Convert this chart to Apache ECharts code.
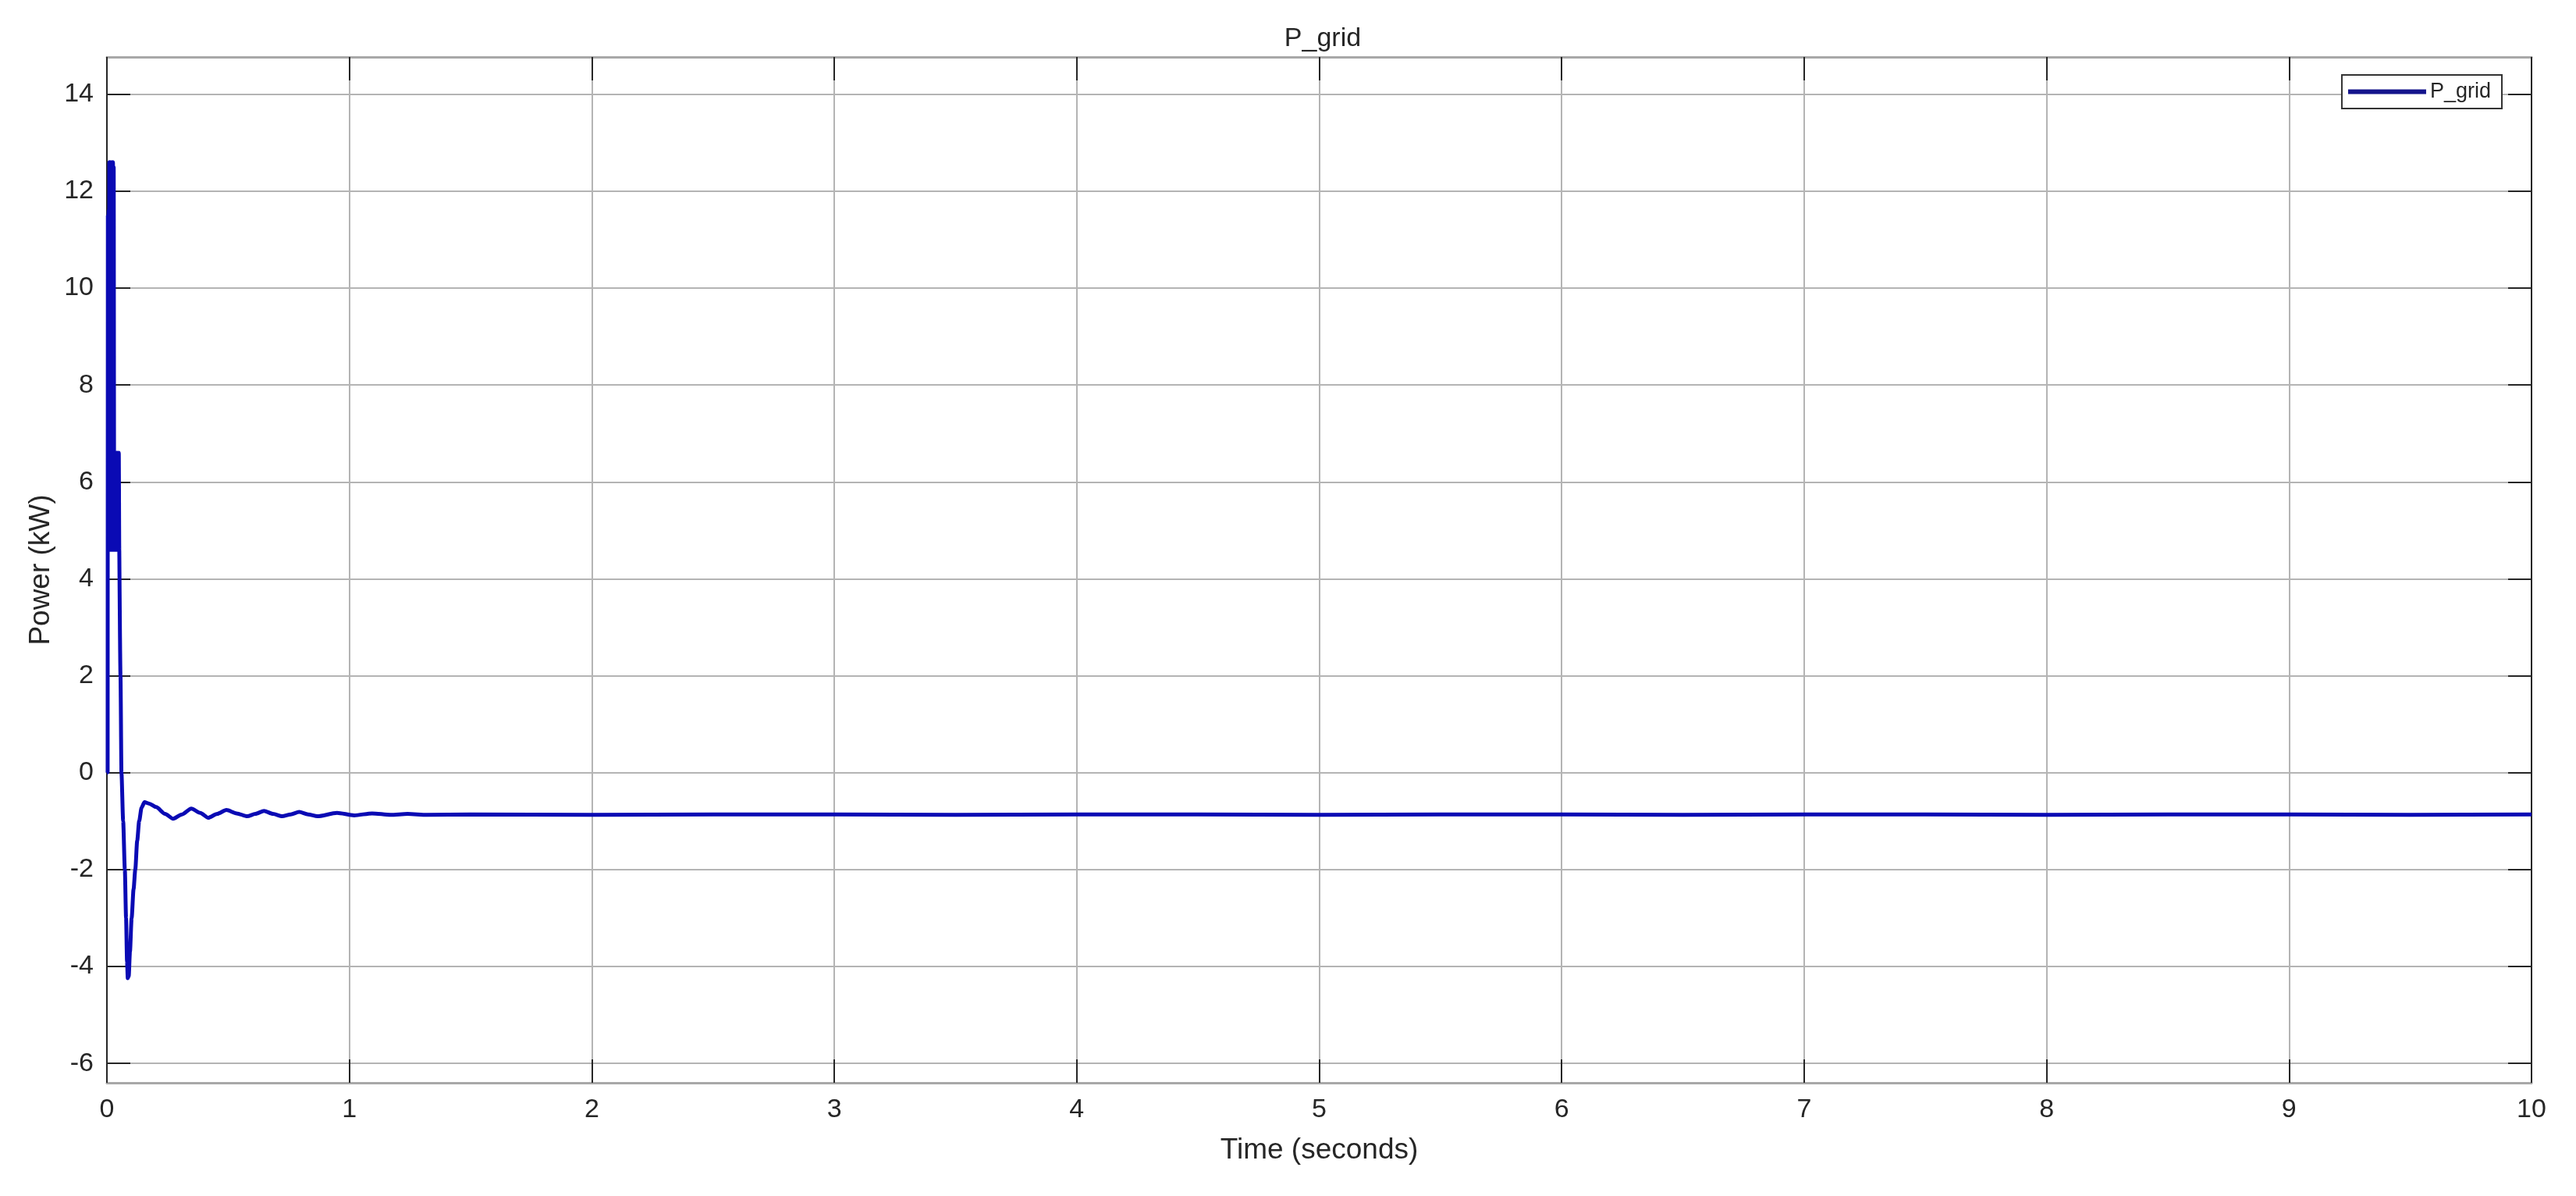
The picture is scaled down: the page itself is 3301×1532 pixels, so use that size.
<!DOCTYPE html>
<html>
<head>
<meta charset="utf-8">
<title>P_grid</title>
<script src="https://cdn.jsdelivr.net/npm/echarts@6/dist/echarts.min.js"></script>
<style>
  html, body { margin: 0; padding: 0; background: #fff; }
  #chart { width: 3301px; height: 1532px; }
</style>
</head>
<body>
<div id="chart"></div>
<script>
// time axis (s) and grid power (kW)
const timeS = [
  0, 0.003, 0.004, 0.006, 0.007, 0.009, 0.010, 0.012, 0.013, 0.015, 0.016, 0.018, 0.019,
  0.021, 0.022, 0.024, 0.025, 0.027, 0.028, 0.030, 0.031, 0.033, 0.034, 0.036, 0.037,
  0.039, 0.040, 0.042, 0.043, 0.045, 0.046, 0.048, 0.049, 0.051, 0.052,
  0.056, 0.060, 0.067, 0.074, 0.079, 0.083, 0.086, 0.090, 0.095, 0.102, 0.110, 0.117,
  0.125, 0.133, 0.143, 0.155, 0.175, 0.203, 0.240, 0.273, 0.310, 0.348, 0.385, 0.418,
  0.455, 0.493, 0.535, 0.579, 0.612, 0.648, 0.685, 0.723, 0.758, 0.793, 0.830, 0.868,
  0.949, 1.02, 1.094, 1.17, 1.24, 1.32, 1.5, 2, 2.5, 3, 3.5, 4, 4.5, 5, 5.5, 6, 6.5,
  7, 7.5, 8, 8.5, 9, 9.5, 10
];
const powerKW = [
  0, 0, 11.5, 4.6, 11.6, 4.6, 12.6, 4.7, 12.6, 4.6, 12.6, 4.7, 12.5,
  4.6, 12.6, 4.7, 12.6, 4.6, 12.5, 4.7, 6.6, 4.6, 6.6, 4.7, 6.6,
  4.6, 6.6, 4.7, 6.6, 4.6, 6.5, 4.7, 6.6, 4.6, 4.6,
  2.0, 0.0, -1.0, -2.0, -3.0, -3.9, -4.24, -4.2, -3.7, -3.0, -2.4, -2.0,
  -1.4, -1.0, -0.72, -0.61, -0.64, -0.71, -0.85, -0.95, -0.86, -0.74, -0.83, -0.93,
  -0.85, -0.77, -0.84, -0.90, -0.85, -0.79, -0.85, -0.90, -0.86, -0.81, -0.86, -0.90,
  -0.83, -0.88, -0.84, -0.87, -0.85, -0.87, -0.86, -0.87, -0.86, -0.86, -0.87, -0.86, -0.86, -0.87, -0.86, -0.86, -0.87,
  -0.86, -0.86, -0.87, -0.86, -0.86, -0.87, -0.86
];
const xTicks = [0, 1, 2, 3, 4, 5, 6, 7, 8, 9, 10];
const yTicks = [-6, -4, -2, 0, 2, 4, 6, 8, 10, 12, 14];

const chart = echarts.init(document.getElementById('chart'));

const textColor = '#262626';
const gridColor = '#b4b4b4';
const lineColor = '#0a0ab4';
const font = 'Liberation Sans, Arial, sans-serif';

chart.setOption({
  animation: false,
  backgroundColor: '#fff',
  title: {
    text: 'P_grid',
    left: 1690,
    textAlign: 'center',
    top: 28,
    textStyle: { fontFamily: font, fontSize: 34, fontWeight: 'normal', color: textColor }
  },
  legend: {
    data: [{ name: 'P_grid', icon: 'rect' }],
    right: 95,
    top: 96,
    orient: 'horizontal',
    backgroundColor: '#fff',
    borderColor: '#333',
    borderWidth: 2,
    borderRadius: 0,
    padding: [8, 14, 8, 8],
    itemWidth: 100,
    itemHeight: 6,
    itemGap: 0,
    itemStyle: { color: '#14148c' },
    textStyle: { fontFamily: font, fontSize: 27, color: textColor }
  },
  grid: { left: 137, right: 57, top: 73, bottom: 145, containLabel: false },
  xAxis: [
    {
      type: 'value',
      min: 0,
      max: 10,
      interval: 1,
      name: 'Time (seconds)',
      nameLocation: 'middle',
      nameGap: 68,
      nameTextStyle: { fontFamily: font, fontSize: 37, color: textColor },
      axisLine: { onZero: false, lineStyle: { color: '#a8a8a8', width: 3 } },
      axisTick: { inside: true, length: 30, lineStyle: { color: '#262626', width: 2 } },
      axisLabel: { fontFamily: font, fontSize: 34, color: textColor, margin: 18 },
      splitLine: { show: true, lineStyle: { color: gridColor, width: 2 } }
    },
    {
      type: 'value',
      position: 'top',
      min: 0,
      max: 10,
      interval: 1,
      axisLine: { onZero: false, lineStyle: { color: '#a8a8a8', width: 3 } },
      axisTick: { inside: true, length: 30, lineStyle: { color: '#262626', width: 2 } },
      axisLabel: { show: false },
      splitLine: { show: false }
    }
  ],
  yAxis: [
    {
      type: 'value',
      min: -6.4,
      max: 14.77,
      name: 'Power (kW)',
      nameLocation: 'middle',
      nameGap: 64,
      nameTextStyle: { fontFamily: font, fontSize: 37, color: textColor },
      axisLine: { show: true, onZero: false, lineStyle: { color: '#262626', width: 2 } },
      axisTick: { show: true, inside: true, length: 30, customValues: yTicks, lineStyle: { color: '#262626', width: 2 } },
      axisLabel: { customValues: yTicks, fontFamily: font, fontSize: 34, color: textColor, margin: 17 },
      splitLine: { show: true, lineStyle: { color: gridColor, width: 2 } }
    },
    {
      type: 'value',
      position: 'right',
      min: -6.4,
      max: 14.77,
      axisLine: { show: true, onZero: false, lineStyle: { color: '#262626', width: 2 } },
      axisTick: { show: true, inside: true, length: 30, customValues: yTicks, lineStyle: { color: '#262626', width: 2 } },
      axisLabel: { show: false, customValues: yTicks },
      splitLine: { show: false }
    }
  ],
  series: [
    {
      name: 'P_grid',
      type: 'line',
      xAxisIndex: 0,
      yAxisIndex: 0,
      showSymbol: false,
      symbol: 'none',
      smooth: 0.25,
      smoothMonotone: 'x',
      lineStyle: { color: lineColor, width: 5 },
      itemStyle: { color: lineColor },
      data: timeS.map((t, i) => [t, powerKW[i]])
    }
  ]
});

window.addEventListener('resize', () => chart.resize());
</script>
</body>
</html>
